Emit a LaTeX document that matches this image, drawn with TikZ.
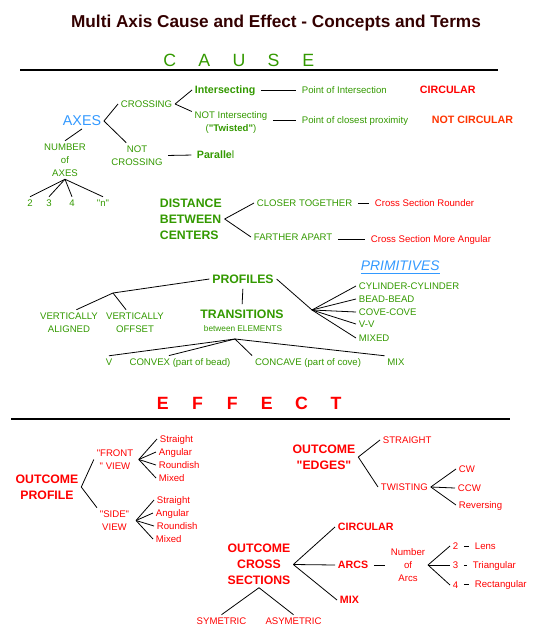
\documentclass[tikz,border=0pt]{standalone}
\usepackage{fontspec}
\setmainfont{Liberation Sans}
\usepackage{tikz}
\usetikzlibrary{positioning}
\newcommand{\spl}[1]{\makebox[26pt]{#1}}
\newcommand{\qd}{\textquotedbl}

\begin{document}
\begin{tikzpicture}[
  x=0.75pt, y=-0.75pt,
  font=\fontsize{7.2}{9.75}\selectfont,
  txt/.style={inner sep=2pt, text depth=0pt, align=center},
  hd/.style={txt, font=\fontsize{9.2}{12}\selectfont\bfseries},
  bd/.style={txt, font=\fontsize{8}{9.75}\selectfont\bfseries},
  link/.style={draw=black, line width=0.6pt},
  bar/.style={link, shorten <=2pt, shorten >=2pt},
  rule/.style={draw=black, line width=1.5pt},
]
\definecolor{cGrn}{HTML}{339900}
\definecolor{cRed}{HTML}{FF0000}
\definecolor{cOrg}{HTML}{FF3300}
\definecolor{cBlu}{HTML}{3399FF}
\definecolor{cTit}{HTML}{330000}

\useasboundingbox (0,0) rectangle (542,635);

\node[font=\fontsize{12.9}{15}\selectfont\bfseries, text=cTit] (ti) at (276,23) {Multi Axis Cause and Effect - Concepts and Terms};
\node[text=cGrn, font=\fontsize{13.3}{15}\selectfont] (cs) at (239,60) {\spl{C}\spl{A}\spl{U}\spl{S}\spl{E}};
\draw[rule] (20,70) -- (498,70);

\node[txt, text=cBlu, font=\fontsize{10.7}{12}\selectfont] (ax) at (82,121) {AXES};
\node[txt, text=cGrn, anchor=west] (cr) at (118,104) {CROSSING};
\node[txt, text=cGrn] (nc) at (137,155.5) {NOT\\CROSSING};
\node[bd, text=cGrn, anchor=west] (i1) at (192,90) {Intersecting};
\node[txt, text=cGrn] (i2) at (231,122) {NOT Intersecting\\(\textbf{\qd Twisted\qd})};
\node[txt, text=cGrn, anchor=west] (p1) at (299,90) {Point of Intersection};
\node[bd, text=cRed, anchor=west] (r1) at (417,90) {CIRCULAR};
\node[txt, text=cGrn, anchor=west] (p2) at (299,120) {Point of closest proximity};
\node[bd, text=cOrg, anchor=west] (r2) at (429,120) {NOT CIRCULAR};
\node[bd, text=cGrn, anchor=west] (pa) at (194,155) {Paralle\textmd{l}};
\node[txt, text=cGrn] (nm) at (65,160) {NUMBER\\of\\AXES};
\node[txt, text=cGrn] (n2) at (30,203) {2};
\node[txt, text=cGrn] (n3) at (49,203) {3};
\node[txt, text=cGrn] (n4) at (72,203) {4};
\node[txt, text=cGrn] (nn) at (103,203) {\qd n\qd};

\node[hd, text=cGrn, anchor=west, align=left] (ds) at (157,219) {DISTANCE\\BETWEEN\\CENTERS};
\node[txt, text=cGrn, anchor=west] (d1) at (254,203) {CLOSER TOGETHER};
\node[txt, text=cGrn, anchor=west] (d2) at (251,237) {FARTHER APART};
\node[txt, text=cRed, anchor=west] (x1) at (372,203) {Cross Section Rounder};
\node[txt, text=cRed, anchor=west] (x2) at (368,239) {Cross Section More Angular};

\node[hd, text=cGrn] (pr) at (243,279) {PROFILES};
\node[txt, text=cBlu, anchor=west, font=\fontsize{10.4}{12}\selectfont\itshape] (pm) at (358,266) {\underline{PRIMITIVES}};
\node[txt, text=cGrn] (va) at (69,322.5) {VERTICALLY\\ALIGNED};
\node[txt, text=cGrn] (vo) at (135,322.5) {VERTICALLY\\OFFSET};
\coordinate (jv) at (113,293);
\node[hd, text=cGrn] (tr) at (242,314) {TRANSITIONS};
\node[txt, text=cGrn, font=\fontsize{6.2}{8}\selectfont] (te) at (243,329) {between ELEMENTS};
\coordinate (jt) at (235,339);
\node[txt, text=cGrn] (tv) at (109,362) {V};
\node[txt, text=cGrn] (tc) at (180,362) {CONVEX (part of bead)};
\node[txt, text=cGrn] (tk) at (308,362) {CONCAVE (part of cove)};
\node[txt, text=cGrn] (tm) at (396,362) {MIX};
\coordinate (jp) at (312,310);
\node[txt, text=cGrn, anchor=west] (q1) at (356,286) {CYLINDER-CYLINDER};
\node[txt, text=cGrn, anchor=west] (q2) at (356,299) {BEAD-BEAD};
\node[txt, text=cGrn, anchor=west] (q3) at (356,312) {COVE-COVE};
\node[txt, text=cGrn, anchor=west] (q4) at (356,324) {V-V};
\node[txt, text=cGrn, anchor=west] (q5) at (356,338) {MIXED};

\node[text=cRed, font=\fontsize{13.3}{15}\selectfont\bfseries] (ef) at (249.5,403) {\spl{E}\spl{F}\spl{F}\spl{E}\spl{C}\spl{T}};
\draw[rule] (11,419) -- (510,419);

\node[hd, text=cRed] (op) at (47,487) {OUTCOME\\PROFILE};
\node[txt, text=cRed] (fv) at (115,459.5) {\qd FRONT\\\qd{} VIEW};
\node[txt, text=cRed] (sv) at (114.5,520.5) {\qd SIDE\qd\\VIEW};
\node[txt, text=cRed, anchor=west] (f1) at (157,439) {Straight};
\node[txt, text=cRed, anchor=west] (f2) at (156,452) {Angular};
\node[txt, text=cRed, anchor=west] (f3) at (156,465) {Roundish};
\node[txt, text=cRed, anchor=west] (f4) at (156,478) {Mixed};
\node[txt, text=cRed, anchor=west] (s1) at (154,500) {Straight};
\node[txt, text=cRed, anchor=west] (s2) at (153,513) {Angular};
\node[txt, text=cRed, anchor=west] (s3) at (154,526) {Roundish};
\node[txt, text=cRed, anchor=west] (s4) at (153,539) {Mixed};

\node[hd, text=cRed] (oe) at (324,457) {OUTCOME\\\qd EDGES\qd};
\node[txt, text=cRed, anchor=west] (st) at (380,440) {STRAIGHT};
\node[txt, text=cRed, anchor=west] (tw) at (378,487) {TWISTING};
\node[txt, text=cRed, anchor=west] (w1) at (456,469) {CW};
\node[txt, text=cRed, anchor=west] (w2) at (455,488) {CCW};
\node[txt, text=cRed, anchor=west] (w3) at (456,505) {Reversing};

\node[hd, text=cRed] (oc) at (259,564.5) {OUTCOME\\CROSS\\SECTIONS};
\node[bd, text=cRed, anchor=west] (ci) at (335,527) {CIRCULAR};
\node[bd, text=cRed, anchor=west] (ar) at (335,565) {ARCS};
\node[bd, text=cRed, anchor=west] (mx) at (337,600) {MIX};
\node[txt, text=cRed] (na) at (408,565) {Number\\of\\Arcs};
\node[txt, text=cRed, anchor=west] (a2) at (450,546) {2};
\node[txt, text=cRed, anchor=west] (a3) at (450,565) {3};
\node[txt, text=cRed, anchor=west] (a4) at (450,585) {4};
\node[txt, text=cRed, anchor=west] (g1) at (472,546) {Lens};
\node[txt, text=cRed, anchor=west] (g2) at (470,565) {Triangular};
\node[txt, text=cRed, anchor=west] (g3) at (472,584) {Rectangular};
\node[txt, text=cRed] (sy) at (221.5,621) {SYMETRIC};
\node[txt, text=cRed] (as) at (293.5,621) {ASYMETRIC};

\draw[link] (ax.east) -- (cr.west);
\draw[link] (ax.east) -- (nc.130);
\draw[link] (cr.east) -- (i1.west);
\draw[link] (cr.east) -- (i2.165);
\draw[bar] (i1.east) -- (p1.west);
\draw[bar] (p2.west -| i2.east) -- (p2.west);
\draw[link] (ax.south) -- (nm.north);
\draw[bar] (nc.east) -- (pa.west);
\draw[link] (nm.south) -- (n2.north);
\draw[link] (nm.south) -- (n3.north);
\draw[link] (nm.south) -- (n4.north);
\draw[link] (nm.south) -- (nn.north);
\draw[link] (ds.east) -- (d1.west);
\draw[link] (ds.east) -- (d2.west);
\draw[bar] (d1.east) -- (x1.west);
\draw[bar] (x2.west -| d2.east) -- (x2.west);
\draw[link] (pr.west) -- (jv) -- (va.60);
\draw[link] (jv) -- (vo.125);
\draw[bar] (pr.south) -- (tr.north);
\draw[link] (jt) -- (tv.north);
\draw[link] (jt) -- (tc.150);
\draw[link] (jt) -- (tk.north west);
\draw[link] (jt) -- (tm.north west);
\draw[link] (pr.east) -- (jp);
\draw[link] (jp) -- (q1.west);
\draw[link] (jp) -- (q2.west);
\draw[link] (jp) -- (q3.west);
\draw[link] (jp) -- (q4.west);
\draw[link] (jp) -- (q5.west);

\draw[link] (op.east) -- (fv.west);
\draw[link] (op.east) -- (sv.north west);
\draw[link] ([xshift=2pt]fv.east) -- (f1.west);
\draw[link] ([xshift=2pt]fv.east) -- (f2.west);
\draw[link] ([xshift=2pt]fv.east) -- (f3.west);
\draw[link] ([xshift=2pt]fv.east) -- (f4.west);
\draw[link] ([xshift=3pt]sv.east) -- (s1.west);
\draw[link] ([xshift=3pt]sv.east) -- (s2.west);
\draw[link] ([xshift=3pt]sv.east) -- (s3.west);
\draw[link] ([xshift=3pt]sv.east) -- (s4.west);
\draw[link] (oe.east) -- (st.west);
\draw[link] (oe.east) -- (tw.west);
\draw[link] (tw.east) -- (w1.west);
\draw[link] (tw.east) -- (w2.west);
\draw[link] (tw.east) -- (w3.west);
\draw[link] (oc.east) -- (ci.west);
\draw[link] (oc.east) -- (ar.west);
\draw[link] (oc.east) -- (mx.west);
\draw[bar] (ar.east) -- (na.west);
\draw[link] (na.east) -- (a2.west);
\draw[link] (na.east) -- (a3.west);
\draw[link] (na.east) -- (a4.west);
\draw[bar] (a2.east) -- (g1.west);
\draw[bar] (a3.east) -- (g2.west);
\draw[bar] (g3.west -| a4.east) -- (g3.west);
\draw[link] (oc.south) -- (sy.north);
\draw[link] (oc.south) -- (as.north);
\end{tikzpicture}
\end{document}
